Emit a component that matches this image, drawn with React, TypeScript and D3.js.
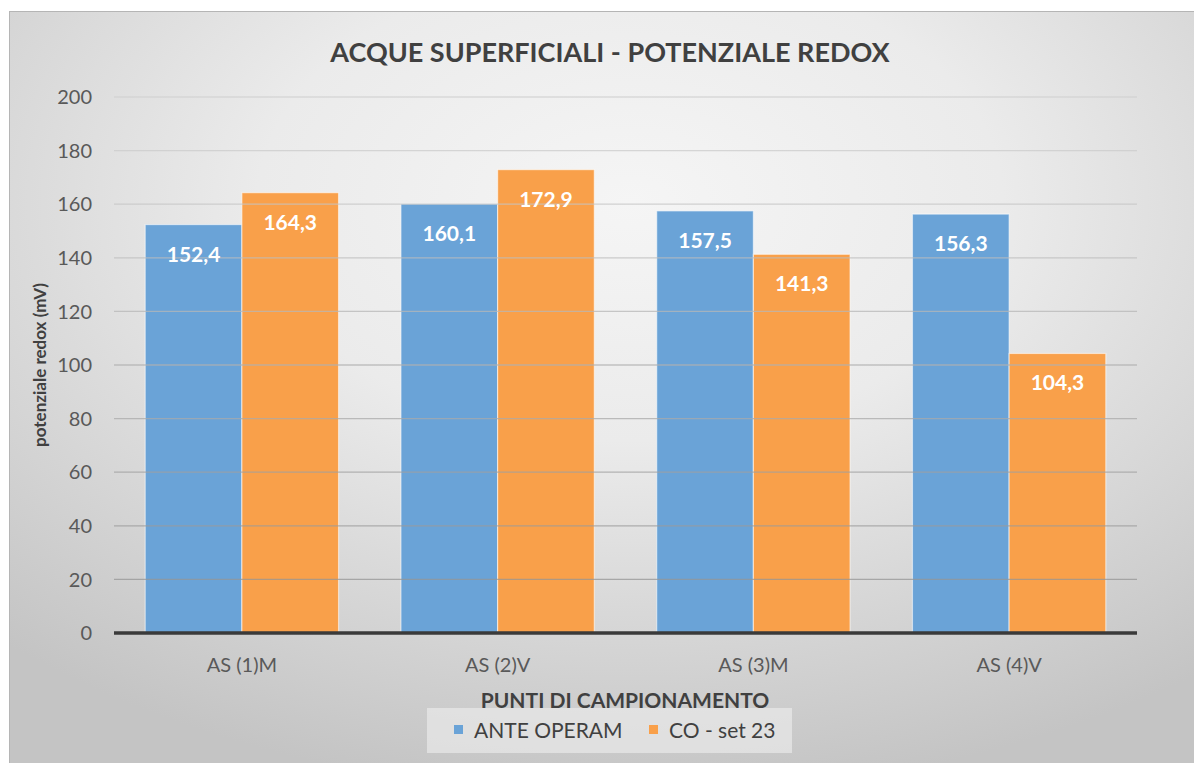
import React from "react";
import * as d3 from "d3";

const categories = ["AS (1)M", "AS (2)V", "AS (3)M", "AS (4)V"];
const seriesNames = ["ANTE OPERAM", "CO - set 23"];
const anteOperam = [152.4, 160.1, 157.5, 156.3];
const coSet23 = [164.3, 172.9, 141.3, 104.3];
const yTicks = [0, 20, 40, 60, 80, 100, 120, 140, 160, 180, 200];

const W = 1194;
const H = 763;
const FONT = "Lato, 'Open Sans', sans-serif";
const colors = ["#6aa3d7", "#f9a04a"];

export default function App() {
  const left = 114, right = 1137, top = 97, bottom = 633;
  const x = d3.scaleBand<string>().domain(categories).range([left, right]).paddingInner(0).paddingOuter(0);
  const y = d3.scaleLinear().domain([0, 200]).range([bottom, top]);
  const groupPad = 0.122;
  const x1 = d3.scaleBand<number>().domain([0, 1]).range([x.bandwidth() * groupPad, x.bandwidth() * (1 - groupPad)]).padding(0);
  const series = [anteOperam, coSet23];
  const fmt = (v: number) => v.toFixed(1).replace(".", ",");
  const gridColor = d3.interpolateRgb("#8e8e8e", "#d2d2d2");

  return (
    <svg width={W} height={H} style={{ position: "absolute", left: 0, top: 0 }} fontFamily={FONT}>
      <defs>
        <radialGradient id="bg" cx="52%" cy="25%" r="78%" fx="52%" fy="25%">
          <stop offset="0%" stopColor="#f5f5f5" />
          <stop offset="40%" stopColor="#ebebeb" />
          <stop offset="100%" stopColor="#c4c4c4" />
        </radialGradient>
      </defs>
      <rect x={0} y={0} width={W} height={H} fill="#ffffff" />
      <rect x={9.5} y={11.5} width={W} height={H} fill="url(#bg)" stroke="#b5b5b5" strokeWidth={1} />
      <text x={610} y={62} textAnchor="middle" fontSize={27} fontWeight="bold" fill="#404040">
        ACQUE SUPERFICIALI - POTENZIALE REDOX
      </text>
      {categories.map((c, i) => (
        <g key={c} transform={`translate(${x(c)},0)`}>
          {series.map((s, j) => (
            <rect
              key={j}
              x={x1(j)}
              y={y(s[i])}
              width={x1.bandwidth()}
              height={bottom - y(s[i])}
              fill={colors[j]}
              stroke="#ffffff"
              strokeOpacity={0.55}
              strokeWidth={1.2}
            />
          ))}
        </g>
      ))}
      {yTicks.map((t) => (
        <g key={t}>
          {t > 0 && (
            <line x1={left} x2={right} y1={y(t)} y2={y(t)} stroke={gridColor(t / 200)} strokeOpacity={0.75} strokeWidth={1.3} />
          )}
          <text x={92} y={y(t)} dy="0.36em" textAnchor="end" fontSize={20} fill="#595959">{t}</text>
        </g>
      ))}
      {categories.map((c, i) => (
        <g key={c} transform={`translate(${x(c)},0)`}>
          {series.map((s, j) => (
            <text
              key={j}
              x={(x1(j) as number) + x1.bandwidth() / 2}
              y={y(s[i]) + 37}
              textAnchor="middle"
              fontSize={21}
              fontWeight="bold"
              fill="#ffffff"
            >
              {fmt(s[i])}
            </text>
          ))}
          <text x={x.bandwidth() / 2} y={672} textAnchor="middle" fontSize={20} fill="#595959">{c}</text>
        </g>
      ))}
      <line x1={left} x2={right} y1={bottom} y2={bottom} stroke="#3a3a3a" strokeWidth={3.5} />
      <text
        transform={`translate(46,${(top + bottom) / 2}) rotate(-90)`}
        textAnchor="middle"
        fontSize={17}
        fontWeight="bold"
        fill="#404040"
      >
        potenziale redox (mV)
      </text>
      <text x={625} y={708} textAnchor="middle" fontSize={21} fontWeight="bold" fill="#404040">
        PUNTI DI CAMPIONAMENTO
      </text>
      <rect x={427} y={708} width={365} height={45} fill="#f2f2f2" fillOpacity={0.55} />
      {seriesNames.map((n, j) => {
        const lx = [454, 649][j];
        return (
          <g key={n}>
            <rect x={lx} y={725} width={9} height={9} fill={colors[j]} />
            <text x={lx + 20} y={738} fontSize={21} fill="#404040">{n}</text>
          </g>
        );
      })}
    </svg>
  );
}
